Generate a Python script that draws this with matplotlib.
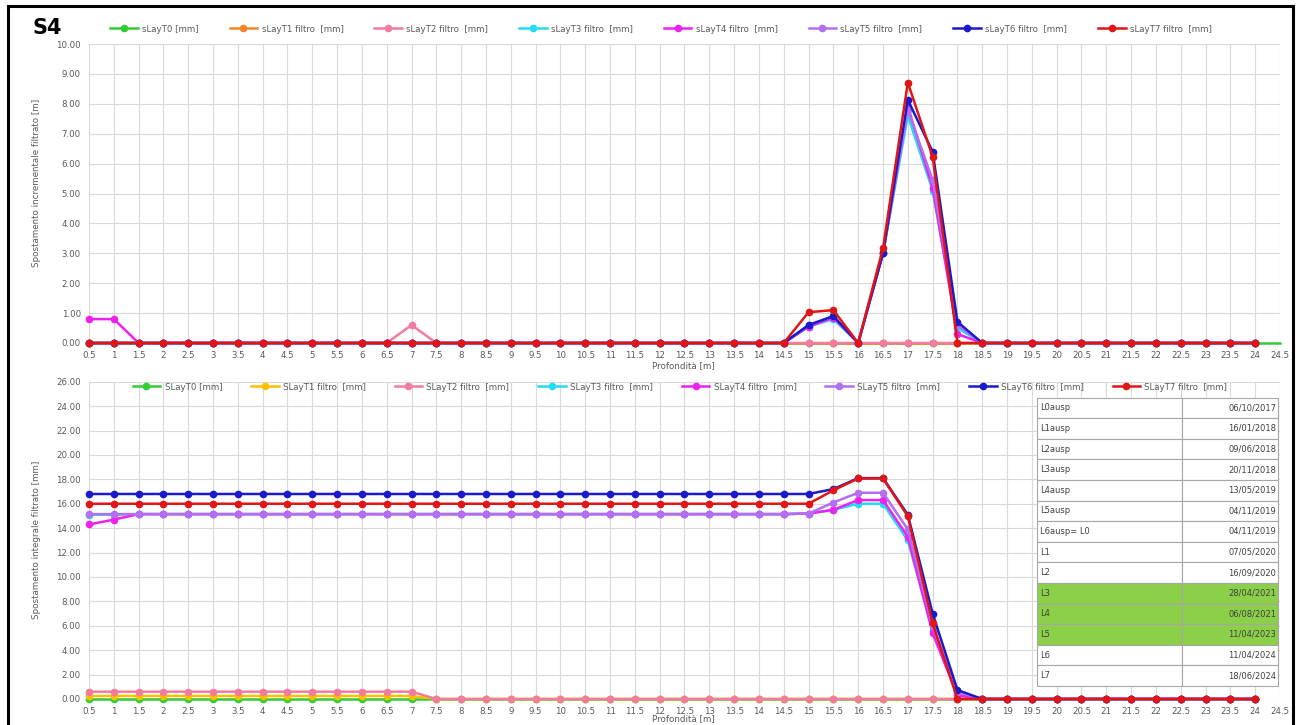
import matplotlib.pyplot as plt
from matplotlib.patches import Rectangle
from matplotlib.lines import Line2D

# profondita [m]
depth = [0.5, 1, 1.5, 2, 2.5, 3, 3.5, 4, 4.5, 5, 5.5, 6, 6.5, 7, 7.5, 8,
         8.5, 9, 9.5, 10, 10.5, 11, 11.5, 12, 12.5, 13, 13.5, 14, 14.5, 15, 15.5, 16,
         16.5, 17, 17.5, 18, 18.5, 19, 19.5, 20, 20.5, 21, 21.5, 22, 22.5, 23, 23.5, 24,
         24.5]

# --- spostamento incrementale filtrato (grafico sopra) ---
inc_T0 = [0, 0, 0, 0, 0, 0, 0, 0, 0, 0, 0, 0, 0, 0, 0, 0,
          0, 0, 0, 0, 0, 0, 0, 0, 0, 0, 0, 0, 0, 0, 0, 0,
          0, 0, 0, 0, 0, 0, 0, 0, 0, 0, 0, 0, 0, 0, 0, 0, 0]
inc_T1 = [0, 0, 0, 0, 0, 0, 0, 0, 0, 0, 0, 0, 0, 0, 0, 0,
          0, 0, 0, 0, 0, 0, 0, 0, 0, 0, 0, 0, 0, 0, 0, 0,
          0, 0, 0, 0, 0, 0, 0, 0, 0, 0, 0, 0, 0, 0, 0, 0]
inc_T2 = [0, 0, 0, 0, 0, 0, 0, 0, 0, 0, 0, 0, 0, 0.6, 0, 0,
          0, 0, 0, 0, 0, 0, 0, 0, 0, 0, 0, 0, 0, 0, 0, 0,
          0, 0, 0, 0, 0, 0, 0, 0, 0, 0, 0, 0, 0, 0, 0, 0]
inc_T3 = [0, 0, 0, 0, 0, 0, 0, 0, 0, 0, 0, 0, 0, 0, 0, 0,
          0, 0, 0, 0, 0, 0, 0, 0, 0, 0, 0, 0, 0, 0.55, 0.8, 0,
          3.0, 7.6, 5.1, 0.5, 0, 0, 0, 0, 0, 0, 0, 0, 0, 0, 0, 0]
inc_T4 = [0.8, 0.8, 0, 0, 0, 0, 0, 0, 0, 0, 0, 0, 0, 0, 0, 0,
          0, 0, 0, 0, 0, 0, 0, 0, 0, 0, 0, 0, 0, 0.55, 0.85, 0,
          3.0, 7.9, 5.2, 0.3, 0, 0, 0, 0, 0, 0, 0, 0, 0, 0, 0, 0]
inc_T5 = [0, 0, 0, 0, 0, 0, 0, 0, 0, 0, 0, 0, 0, 0, 0, 0,
          0, 0, 0, 0, 0, 0, 0, 0, 0, 0, 0, 0, 0, 0.6, 0.9, 0,
          3.0, 7.8, 5.45, 0.6, 0, 0, 0, 0, 0, 0, 0, 0, 0, 0, 0, 0]
inc_T6 = [0, 0, 0, 0, 0, 0, 0, 0, 0, 0, 0, 0, 0, 0, 0, 0,
          0, 0, 0, 0, 0, 0, 0, 0, 0, 0, 0, 0, 0, 0.6, 0.9, 0,
          3.0, 8.13, 6.4, 0.71, 0, 0, 0, 0, 0, 0, 0, 0, 0, 0, 0, 0]
inc_T7 = [0, 0, 0, 0, 0, 0, 0, 0, 0, 0, 0, 0, 0, 0, 0, 0,
          0, 0, 0, 0, 0, 0, 0, 0, 0, 0, 0, 0, 0, 1.03, 1.1, 0,
          3.17, 8.71, 6.23, 0, 0, 0, 0, 0, 0, 0, 0, 0, 0, 0, 0, 0]

# --- spostamento integrale filtrato (grafico sotto) ---
int_T0 = [0, 0, 0, 0, 0, 0, 0, 0, 0, 0, 0, 0, 0, 0, 0, 0,
          0, 0, 0, 0, 0, 0, 0, 0, 0, 0, 0, 0, 0, 0, 0, 0,
          0, 0, 0, 0, 0, 0, 0, 0, 0, 0, 0, 0, 0, 0, 0, 0]
int_T1 = [0.25, 0.25, 0.25, 0.25, 0.25, 0.25, 0.25, 0.25, 0.25, 0.25, 0.25, 0.25, 0.25, 0.25, 0, 0,
          0, 0, 0, 0, 0, 0, 0, 0, 0, 0, 0, 0, 0, 0, 0, 0,
          0, 0, 0, 0, 0, 0, 0, 0, 0, 0, 0, 0, 0, 0, 0, 0]
int_T2 = [0.6, 0.6, 0.6, 0.6, 0.6, 0.6, 0.6, 0.6, 0.6, 0.6, 0.6, 0.6, 0.6, 0.6, 0, 0,
          0, 0, 0, 0, 0, 0, 0, 0, 0, 0, 0, 0, 0, 0, 0, 0,
          0, 0, 0, 0, 0, 0, 0, 0, 0, 0, 0, 0, 0, 0, 0, 0]
int_T3 = [15.1, 15.1, 15.15, 15.15, 15.15, 15.15, 15.15, 15.15, 15.15, 15.15, 15.15, 15.15, 15.15, 15.15, 15.15, 15.15,
          15.15, 15.15, 15.15, 15.15, 15.15, 15.15, 15.15, 15.15, 15.15, 15.15, 15.15, 15.15, 15.15, 15.2, 15.5, 16.0,
          16.0, 13.0, 5.6, 0.5, 0, 0, 0, 0, 0, 0, 0, 0, 0, 0, 0, 0]
int_T4 = [14.3, 14.7, 15.15, 15.15, 15.15, 15.15, 15.15, 15.15, 15.15, 15.15, 15.15, 15.15, 15.15, 15.15, 15.15, 15.15,
          15.15, 15.15, 15.15, 15.15, 15.15, 15.15, 15.15, 15.15, 15.15, 15.15, 15.15, 15.15, 15.15, 15.2, 15.5, 16.3,
          16.3, 13.3, 5.4, 0.3, 0, 0, 0, 0, 0, 0, 0, 0, 0, 0, 0, 0]
int_T5 = [15.15, 15.15, 15.15, 15.15, 15.15, 15.15, 15.15, 15.15, 15.15, 15.15, 15.15, 15.15, 15.15, 15.15, 15.15, 15.15,
          15.15, 15.15, 15.15, 15.15, 15.15, 15.15, 15.15, 15.15, 15.15, 15.15, 15.15, 15.15, 15.15, 15.2, 16.1, 16.9,
          16.9, 13.9, 6.0, 0.6, 0, 0, 0, 0, 0, 0, 0, 0, 0, 0, 0, 0]
int_T6 = [16.8, 16.8, 16.8, 16.8, 16.8, 16.8, 16.8, 16.8, 16.8, 16.8, 16.8, 16.8, 16.8, 16.8, 16.8, 16.8,
          16.8, 16.8, 16.8, 16.8, 16.8, 16.8, 16.8, 16.8, 16.8, 16.8, 16.8, 16.8, 16.8, 16.8, 17.2, 18.1,
          18.1, 15.1, 7.0, 0.74, 0, 0, 0, 0, 0, 0, 0, 0, 0, 0, 0, 0]
int_T7 = [16.0, 16.0, 16.0, 16.0, 16.0, 16.0, 16.0, 16.0, 16.0, 16.0, 16.0, 16.0, 16.0, 16.0, 16.0, 16.0,
          16.0, 16.0, 16.0, 16.0, 16.0, 16.0, 16.0, 16.0, 16.0, 16.0, 16.0, 16.0, 16.0, 16.0, 17.1, 18.07,
          18.07, 14.98, 6.2, 0, 0, 0, 0, 0, 0, 0, 0, 0, 0, 0, 0, 0]

inc_series = [inc_T0, inc_T1, inc_T2, inc_T3, inc_T4, inc_T5, inc_T6, inc_T7]
int_series = [int_T0, int_T1, int_T2, int_T3, int_T4, int_T5, int_T6, int_T7]

inc_labels = ['sLayT0 [mm]', 'sLayT1 filtro  [mm]', 'sLayT2 filtro  [mm]', 'sLayT3 filtro  [mm]',
              'sLayT4 filtro  [mm]', 'sLayT5 filtro  [mm]', 'sLayT6 filtro  [mm]', 'sLayT7 filtro  [mm]']
int_labels = ['SLayT0 [mm]', 'SLayT1 filtro  [mm]', 'SLayT2 filtro  [mm]', 'SLayT3 filtro  [mm]',
              'SLayT4 filtro  [mm]', 'SLayT5 filtro  [mm]', 'SLayT6 filtro  [mm]', 'SLayT7 filtro  [mm]']

inc_colors = ['#33cc33', '#f4862a', '#f27ba0', '#22dcf0', '#ee22ee', '#b46ef0', '#1a1acc', '#e01515']
int_colors = ['#33cc33', '#ffc000', '#f27ba0', '#22dcf0', '#ee22ee', '#b46ef0', '#1a1acc', '#e01515']

# tabella letture
read_names = ['L0ausp', 'L1ausp', 'L2ausp', 'L3ausp', 'L4ausp', 'L5ausp', 'L6ausp= L0',
              'L1', 'L2', 'L3', 'L4', 'L5', 'L6', 'L7']
read_dates = ['06/10/2017', '16/01/2018', '09/06/2018', '20/11/2018', '13/05/2019', '04/11/2019',
              '04/11/2019', '07/05/2020', '16/09/2020', '28/04/2021', '06/08/2021', '11/04/2023',
              '11/04/2024', '18/06/2024']
read_green = ['L3', 'L4', 'L5']

W, H = 1298, 725
fig = plt.figure(figsize=(W / 100, H / 100), dpi=100)
grey = '#595959'


def fx(px):
    return px / W


def fy(py):
    return 1 - py / H


def style_axes(ax, ymax, ystep):
    ax.set_xlim(0.5, 24.5)
    ax.set_ylim(0, ymax)
    ax.set_xticks(depth)
    ax.set_xticklabels(['%g' % d for d in depth])
    ax.set_yticks([v * ystep for v in range(int(ymax / ystep) + 1)])
    ax.yaxis.set_major_formatter(plt.FormatStrFormatter('%.2f'))
    ax.tick_params(length=0, labelsize=6.2, colors=grey, pad=6)
    ax.grid(color='#d9d9d9', linewidth=0.8)
    ax.set_axisbelow(True)
    for s in ax.spines.values():
        s.set_visible(False)


ax1 = fig.add_axes([fx(89), fy(343), fx(1280 - 89), (343 - 44) / H])
ax2 = fig.add_axes([fx(89), fy(699), fx(1280 - 89), (699 - 381.7) / H])

for vals, col, lab in zip(inc_series, inc_colors, inc_labels):
    ax1.plot(depth[:len(vals)], vals, color=col, lw=1.8, marker='o', ms=4.5,
             markevery=list(range(48)), label=lab, clip_on=False)
for vals, col, lab in zip(int_series, int_colors, int_labels):
    ax2.plot(depth[:len(vals)], vals, color=col, lw=1.8, marker='o', ms=4.5,
             label=lab, clip_on=False)

style_axes(ax1, 10, 1)
style_axes(ax2, 26, 2)

fig.text(fx(37), fy(183), 'Spostamento incrementale filtrato [m]', rotation=90,
         ha='center', va='center', fontsize=6.3, color=grey)
fig.text(fx(37), fy(540), 'Spostamento integrale filtrato [mm]', rotation=90,
         ha='center', va='center', fontsize=6.3, color=grey)
fig.text(fx(683), fy(366), 'Profondità [m]', ha='center', va='center', fontsize=6.3, color=grey)
fig.text(fx(683), fy(719), 'Profondità [m]', ha='center', va='center', fontsize=6.3, color=grey)

fig.text(fx(32), fy(28), 'S4', fontsize=15, fontweight='bold', ha='left', va='center')

h1 = [Line2D([], [], color=c, lw=1.8, marker='o', ms=4.5) for c in inc_colors]
fig.legend(h1, inc_labels, loc='center', bbox_to_anchor=(fx(661), fy(29)), ncol=8,
           frameon=False, fontsize=6.2, handlelength=3.2, columnspacing=3.6,
           handletextpad=0.5, labelcolor=grey)
h2 = [Line2D([], [], color=c, lw=1.8, marker='o', ms=4.5) for c in int_colors]
fig.legend(h2, int_labels, loc='center', bbox_to_anchor=(fx(680), fy(387)), ncol=8,
           frameon=False, fontsize=6.2, handlelength=3.2, columnspacing=3.35,
           handletextpad=0.5, labelcolor=grey)

# tabella date
axt = fig.add_axes([fx(1037), fy(686), fx(1278 - 1037), (686 - 397.5) / H])
axt.set_axis_off()
cell_cols = [['#8cd04a'] * 2 if n in read_green else ['white'] * 2 for n in read_names]
tbl = axt.table(cellText=[[n, d] for n, d in zip(read_names, read_dates)],
                cellColours=cell_cols, colWidths=[0.6, 0.4], bbox=[0, 0, 1, 1])
tbl.auto_set_font_size(False)
for (r, c), cell in tbl.get_celld().items():
    cell.set_edgecolor('#a6a6a6')
    cell.set_linewidth(0.8)
    cell.get_text().set_fontsize(6)
    cell.get_text().set_color('#404040')
    cell.set_text_props(ha='left' if c == 0 else 'right')
    cell.PAD = 0.02

# cornice nera
fig.patches.append(Rectangle((fx(8), -0.05), fx(1293 - 8), fy(6) + 0.05, transform=fig.transFigure,
                             fill=False, edgecolor='black', lw=2.2, zorder=10))

fig.savefig('out.png', dpi=100)
